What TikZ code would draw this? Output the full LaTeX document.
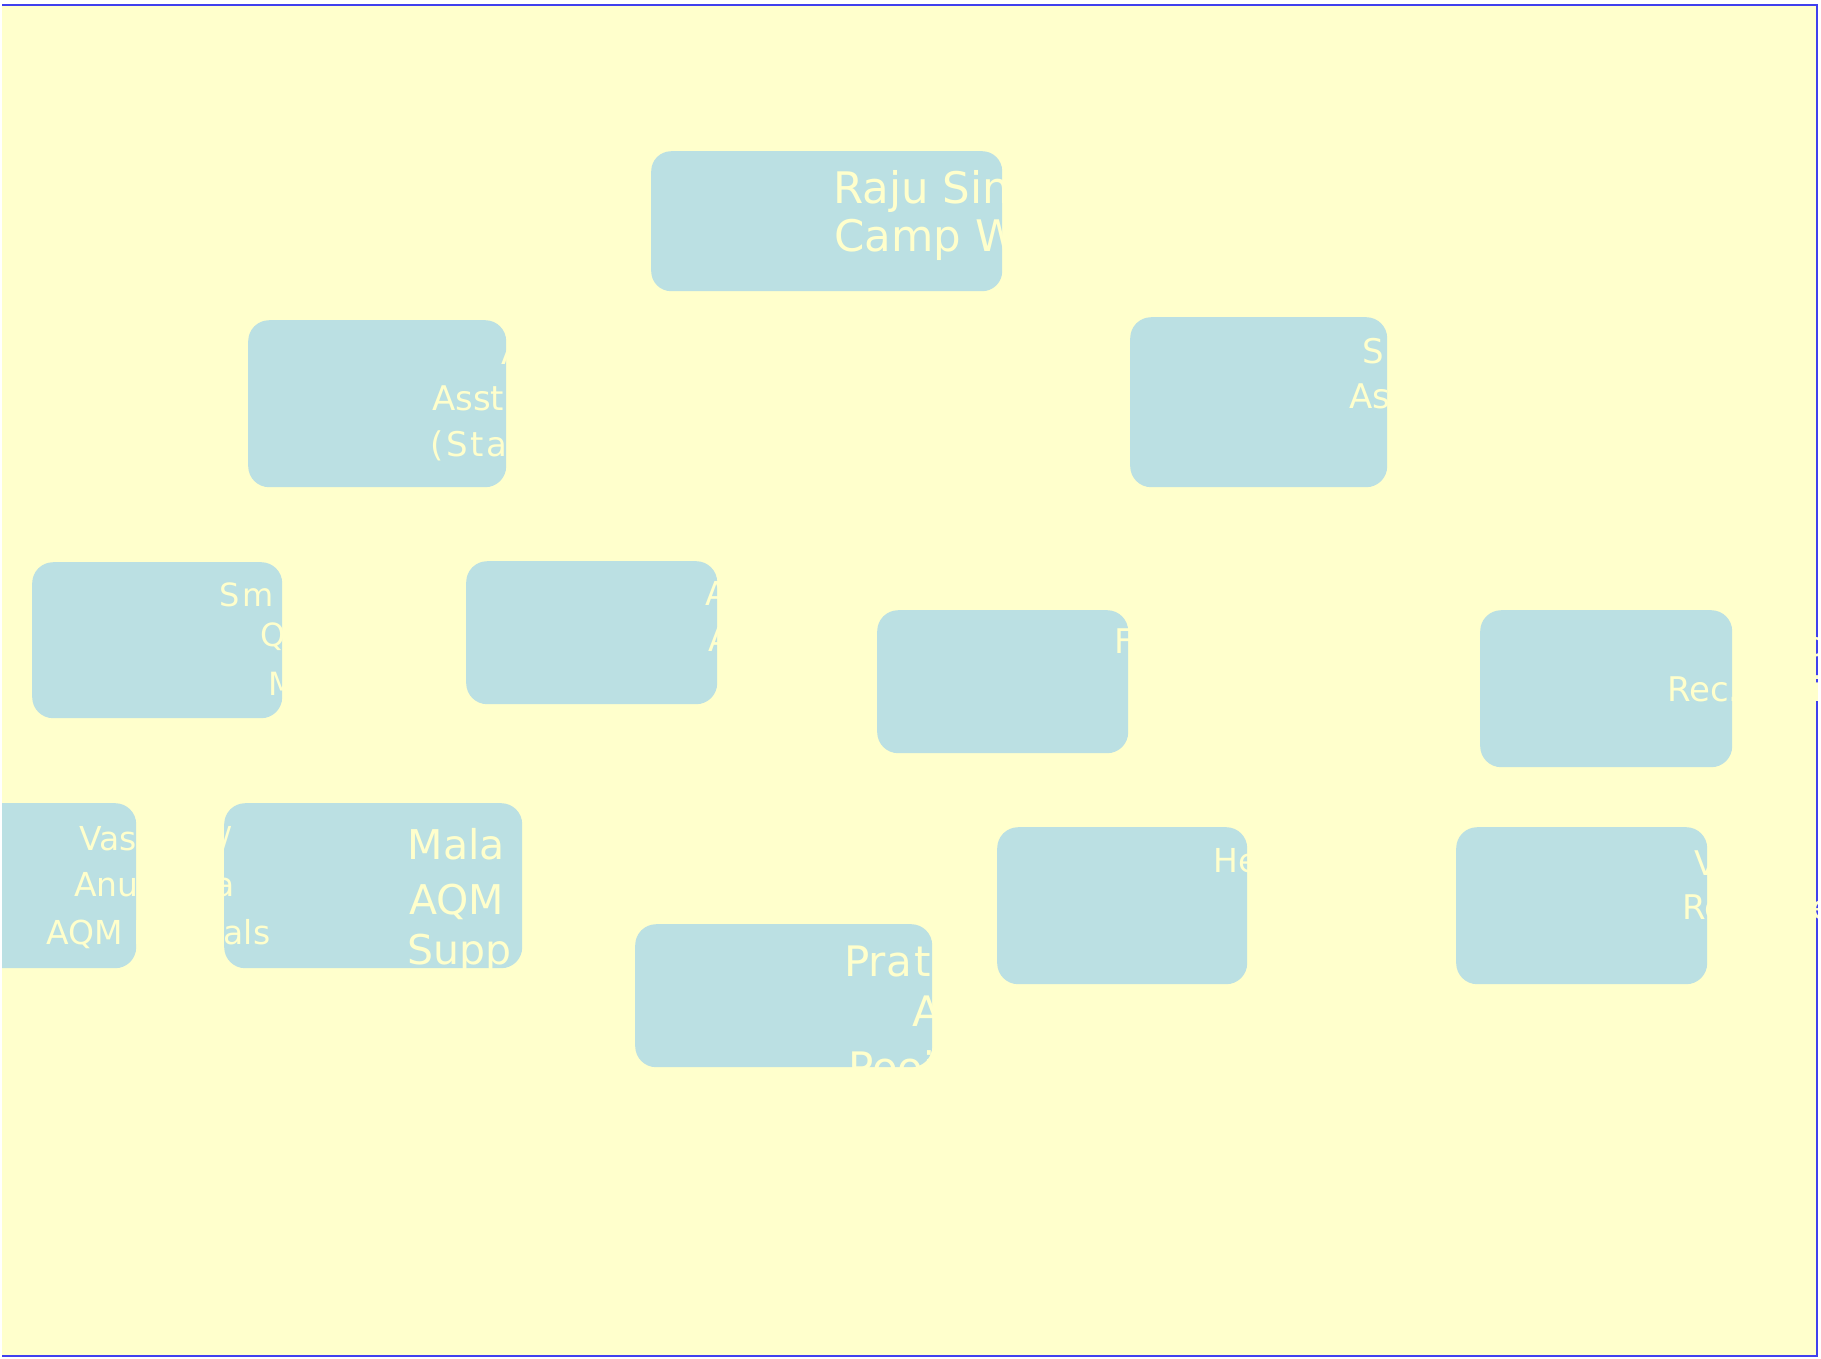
\documentclass[tikz,border=0pt]{standalone}
\usepackage{fontspec}
\setmainfont{DejaVu Sans}
\definecolor{bgyellow}{RGB}{255,255,204}
\definecolor{boxblue}{RGB}{187,224,227}
\definecolor{frameblue}{RGB}{64,64,238}
\tikzset{
  box/.style={fill=boxblue, draw=none, rounded corners=21pt, inner sep=0pt, anchor=north west},
  lbl/.style={text=bgyellow, inner sep=0pt, anchor=base west},
  fsA/.style={lbl, font=\fontsize{43.5}{50}\selectfont},
  fsB/.style={lbl, font=\fontsize{42}{48}\selectfont},
  fsC/.style={lbl, font=\fontsize{41}{47}\selectfont},
  fsD/.style={lbl, font=\fontsize{34}{40}\selectfont},
  fsE/.style={lbl, font=\fontsize{33}{39}\selectfont},
  fsF/.style={lbl, font=\fontsize{32}{38}\selectfont},
}
\begin{document}
\begin{tikzpicture}[x=1pt,y=-1pt]
\useasboundingbox (0,0) rectangle (1821,1358);
\fill[white] (0,0) rectangle (1821,1358);
% page background and frame
\fill[bgyellow] (2,4.5) rectangle (1816.5,1355.5);
\draw[frameblue, line width=2pt] (2,4.5) -- (1816.5,4.5) -- (1816.5,1355.5) -- (2,1355.5);
% boxes
\node[box, rounded corners=20pt, minimum width=351pt, minimum height=140pt] (A) at (651,151) {};
\node[box, minimum width=258pt, minimum height=167pt] (B) at (248,320) {};
\node[box, minimum width=257pt, minimum height=170pt] (C) at (1130,317) {};
\node[box, minimum width=250pt, minimum height=156pt] (D) at (32,562) {};
\node[box, minimum width=251pt, minimum height=143pt] (E) at (466,561) {};
\node[box, minimum width=251pt, minimum height=143pt] (F) at (877,610) {};
\node[box, minimum width=252pt, minimum height=157pt] (G) at (1480,610) {};
\begin{scope}
  \clip (2,0) rectangle (1821,1358);
  \node[box, minimum width=176pt, minimum height=165pt] (H) at (-40,803) {};
\end{scope}
\node[box, minimum width=298pt, minimum height=165pt] (I) at (224,803) {};
\node[box, minimum width=297pt, minimum height=143pt] (J) at (635,924) {};
\node[box, minimum width=250pt, minimum height=157pt] (K) at (997,827) {};
\node[box, minimum width=251pt, minimum height=157pt] (L) at (1456,827) {};
% texts (in the page colour: only visible on the boxes)
\begin{scope}
\clip (0,0) rectangle (1817.5,1358);
\node[fsA] (A1) at (833,203) {Raju Singh};
\node[fsA] (A2) at (834,251.7) {Camp Warden};
\node[fsD] (B1) at (501,364) {Anil Kumar};
\node[fsD] (B2) at (432,410) {Asst. Manager};
\node[fsD] (B3) at (430,456.7) {(\kern3pt S\kern2pt t\kern3pt a\kern10pt tionery)};
\node[fsD] (C1) at (1362,363.3) {S\kern8pt uresh};
\node[fsD] (C2) at (1349,408.3) {Asst. Manager};
\node[fsF] (D1) at (219.5,606.7) {S\kern3pt m\kern10pt t. Rani};
\node[fsF] (D2) at (260.5,646.7) {Quality};
\node[fsF] (D3) at (268.5,695) {Manager};
\node[fsE] (E1) at (705,605) {Arun};
\node[fsE] (E2) at (708,651.7) {AQM};
\node[fsD] (F1) at (1114,653.3) {Farooq};
\node[fsD] (G1) at (1779,656) {Gopal};
\node[fsD] (G2) at (1667,701.7) {Rec. Assistant};
\node[fsE] (H1) at (79,850) {Vasanthi/};
\node[fsE] (H2) at (74,896.6) {Anuradha};
\node[fsE] (H3) at (46,944.8) {AQM Manuals};
\node[fsC] (I1) at (407.5,859) {Mala\kern28pt Devi};
\node[fsC] (I2) at (409,914) {AQM};
\node[fsC] (I3) at (407.5,964) {Supp\kern10pt lies};
\node[fsB] (J1) at (844,976) {Pra\kern3pt t\kern10pt ap};
\node[fsB] (J2) at (912.5,1026.7) {Asst.};
\node[fsB] (J3) at (848,1082) {Pooja};
\node[fsE] (K1) at (1213,872.7) {Hemant};
\node[fsD] (L1) at (1694,875) {Vijay};
\node[fsD] (L2) at (1682,919.3) {Room Service};
\end{scope}
\end{tikzpicture}
\end{document}
